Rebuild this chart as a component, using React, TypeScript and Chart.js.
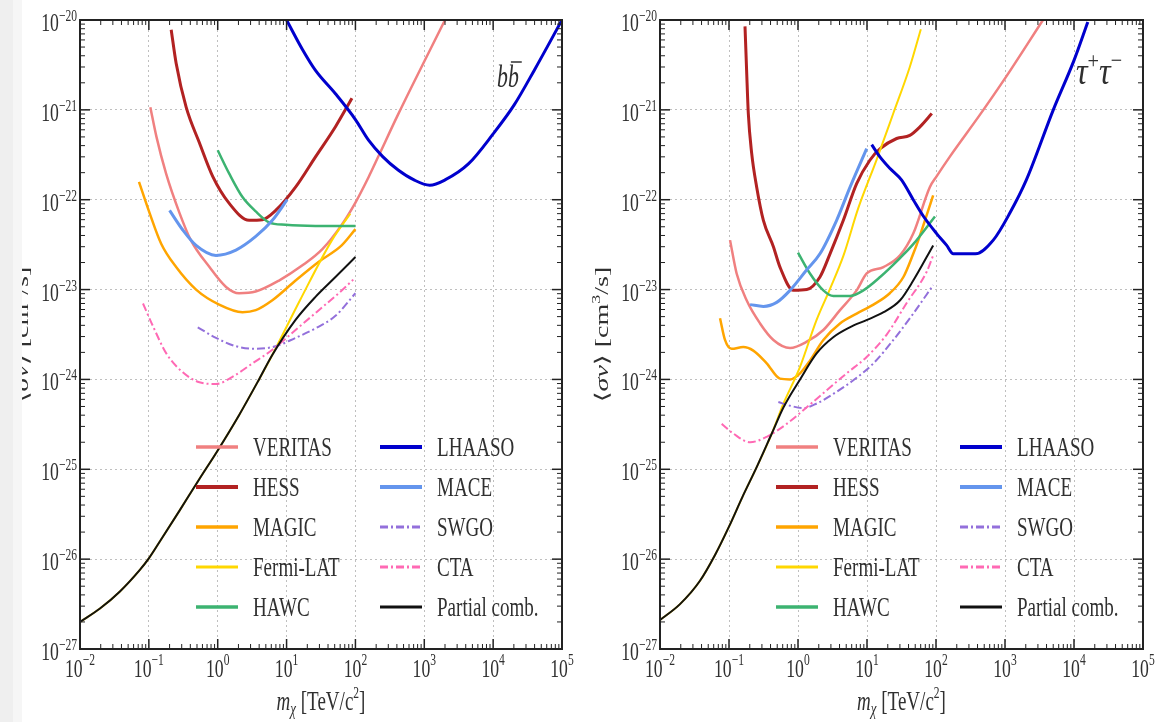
import React, { useEffect, useRef } from 'react';
import { Chart, registerables } from 'chart.js';

Chart.register(...registerables);

type Pt = [number, number];

// ---------- b b-bar channel: [mass (TeV), <sigma v> (cm^3/s)] ----------
const bbVERITAS: Pt[] = [[0.105, 1.07e-21], [0.129, 5.0e-22], [0.178, 1.95e-22], [0.279, 7.1e-23], [0.407, 3.55e-23], [0.759, 1.78e-23], [1.32, 1.07e-23], [2.04, 9.1e-24], [3.55, 9.5e-24], [7.76, 1.26e-23], [17.0, 1.86e-23], [33.1, 2.82e-23], [63.1, 5.25e-23], [100, 9.3e-23], [155, 1.78e-22], [214, 3.0e-22], [417, 8.9e-22], [2000, 1.0e-20]];
const bbHESS: Pt[] = [[0.211, 7.8e-21], [0.249, 3.3e-21], [0.348, 1.07e-21], [0.542, 4.3e-22], [0.845, 1.82e-22], [1.47, 9.1e-23], [2.86, 5.9e-23], [4.46, 6.0e-23], [6.95, 7.6e-23], [13.5, 1.38e-22], [26.3, 3.0e-22], [51.3, 6.5e-22], [89, 1.35e-21]];
const bbMAGIC: Pt[] = [[0.0719, 1.58e-22], [0.1026, 7.1e-23], [0.151, 3.24e-23], [0.249, 1.78e-23], [0.485, 1.0e-23], [1.05, 6.8e-24], [2.29, 5.6e-24], [3.57, 5.9e-24], [6.22, 7.6e-24], [13.5, 1.26e-23], [29.4, 2.04e-23], [63.1, 3.1e-23], [100, 4.7e-23]];
const bbFermi: Pt[] = [[0.01, 2.0e-27], [0.0195, 2.82e-27], [0.038, 4.37e-27], [0.074, 7.6e-27], [0.1, 1.02e-26], [0.145, 1.58e-26], [0.279, 3.47e-26], [0.542, 7.8e-26], [1.0, 1.62e-25], [2.04, 4.0e-25], [3.98, 1.0e-24], [6.17, 1.86e-24], [15.8, 7.7e-24], [45.7, 3.55e-23], [84.3, 7.0e-23]];
const bbHAWC: Pt[] = [[1.0, 3.55e-22], [1.47, 1.95e-22], [2.29, 1.07e-22], [3.57, 7.4e-23], [5.57, 5.6e-23], [9.68, 5.25e-23], [26.3, 5.1e-23], [100, 5.1e-23]];
const bbLHAASO: Pt[] = [[10, 1.0e-20], [17.0, 4.7e-21], [26.3, 2.75e-21], [51.3, 1.51e-21], [100, 7.8e-22], [155, 4.6e-22], [251, 3.0e-22], [417, 2.14e-22], [708, 1.66e-22], [1200, 1.45e-22], [2000, 1.66e-22], [4370, 2.5e-22], [1.0e4, 5.4e-22], [2.0e4, 1.12e-21], [4.0e4, 2.8e-21], [1.0e5, 1.0e-20]];
const bbMACE: Pt[] = [[0.2, 7.6e-23], [0.311, 4.6e-23], [0.485, 3.1e-23], [0.944, 2.4e-23], [1.84, 2.75e-23], [3.57, 3.9e-23], [6.22, 5.9e-23], [10.2, 1.0e-22]];
const bbSWGO: Pt[] = [[0.513, 3.8e-24], [0.944, 2.9e-24], [1.84, 2.34e-24], [3.57, 2.19e-24], [6.95, 2.34e-24], [13.5, 2.9e-24], [26.3, 3.7e-24], [51.3, 5.1e-24], [100, 9.1e-24]];
const bbCTA: Pt[] = [[0.0822, 7.0e-24], [0.115, 3.9e-24], [0.179, 1.95e-24], [0.311, 1.2e-24], [0.542, 9.3e-25], [0.944, 8.9e-25], [1.64, 1.07e-24], [3.2, 1.51e-24], [6.22, 2.14e-24], [13.5, 3.55e-24], [29.4, 5.9e-24], [57.1, 9.1e-24], [93, 1.29e-23]];
const bbComb: Pt[] = [[0.01, 2.0e-27], [0.0195, 2.82e-27], [0.038, 4.37e-27], [0.074, 7.6e-27], [0.1, 1.02e-26], [0.145, 1.58e-26], [0.279, 3.47e-26], [0.542, 7.8e-26], [1.0, 1.62e-25], [2.04, 4.0e-25], [3.98, 1.0e-24], [6.17, 1.86e-24], [13.5, 4.6e-24], [26.3, 8.3e-24], [51.3, 1.38e-23], [100, 2.3e-23]];

// ---------- tau+ tau- channel ----------
const ttVERITAS: Pt[] = [[0.1035, 3.55e-23], [0.129, 1.51e-23], [0.18, 7.6e-24], [0.282, 4.2e-24], [0.44, 2.75e-24], [0.766, 2.24e-24], [1.34, 2.63e-24], [2.33, 3.55e-24], [4.06, 5.9e-24], [7.08, 9.8e-24], [9.9, 1.51e-23], [17.3, 1.78e-23], [30.1, 2.4e-23], [46.8, 4.2e-23], [81.3, 1.38e-22], [102, 1.82e-22], [158, 3.0e-22], [437, 8.9e-22], [1000, 2.24e-21], [3550, 1.0e-20]];
const ttHESS: Pt[] = [[0.1706, 8.5e-21], [0.18, 2.75e-21], [0.1905, 9.1e-22], [0.213, 3.3e-22], [0.252, 1.38e-22], [0.315, 5.9e-23], [0.44, 3.0e-23], [0.548, 1.78e-23], [0.857, 9.8e-24], [1.34, 1.0e-23], [2.08, 1.38e-23], [2.91, 2.5e-23], [4.54, 5.9e-23], [7.08, 1.51e-22], [11.0, 2.75e-22], [15.5, 3.7e-22], [26.9, 4.8e-22], [41.7, 5.2e-22], [58.9, 6.5e-22], [87, 9.1e-22]];
const ttMAGIC: Pt[] = [[0.0741, 4.8e-24], [0.0875, 2.75e-24], [0.109, 2.19e-24], [0.161, 2.29e-24], [0.225, 2.09e-24], [0.352, 1.51e-24], [0.548, 1.02e-24], [0.766, 1.0e-24], [1.07, 1.17e-24], [1.49, 1.62e-24], [2.33, 2.75e-24], [4.06, 4.2e-24], [7.08, 5.4e-24], [12.4, 6.8e-24], [21.4, 9.1e-24], [33.7, 1.38e-23], [46.8, 2.5e-23], [55.5, 3.55e-23], [91, 1.12e-22]];
const ttFermi: Pt[] = [[0.01, 2.1e-27], [0.0195, 3.16e-27], [0.038, 5.75e-27], [0.063, 1.12e-26], [0.1, 2.3e-26], [0.158, 5.0e-26], [0.251, 1.05e-25], [0.417, 2.5e-25], [0.617, 5.4e-25], [1.07, 1.38e-24], [1.86, 4.6e-24], [2.88, 1.0e-23], [4.57, 2.4e-23], [7.41, 7.9e-23], [13.8, 2.8e-22], [24.0, 9.1e-22], [41.7, 3.0e-21], [60.3, 7.9e-21]];
const ttHAWC: Pt[] = [[1.0, 2.57e-23], [1.49, 1.51e-23], [2.33, 9.8e-24], [3.25, 8.5e-24], [5.68, 8.5e-24], [8.85, 9.8e-24], [15.5, 1.38e-23], [30.1, 2.24e-23], [46.8, 3.2e-23], [96.6, 6.5e-23]];
const ttLHAASO: Pt[] = [[11.7, 4.1e-22], [15.4, 3.0e-22], [21.4, 2.24e-22], [31.6, 1.66e-22], [46.8, 1.0e-22], [66.1, 6.5e-23], [102, 4.2e-23], [143, 3.1e-23], [178, 2.5e-23], [372, 2.5e-23], [676, 3.55e-23], [1175, 7.1e-23], [2040, 1.66e-22], [5010, 1.0e-21], [1.0e4, 3.55e-21], [15850, 9.5e-21]];
const ttMACE: Pt[] = [[0.202, 6.8e-24], [0.315, 6.5e-24], [0.491, 7.2e-24], [0.766, 9.8e-24], [1.34, 1.66e-23], [2.08, 2.5e-23], [3.63, 5.9e-23], [5.68, 1.38e-22], [9.89, 3.7e-22]];
const ttSWGO: Pt[] = [[0.519, 5.6e-25], [0.766, 5.1e-25], [1.19, 4.8e-25], [1.87, 5.4e-25], [3.25, 6.9e-25], [6.34, 9.8e-25], [12.4, 1.51e-24], [24.1, 2.75e-24], [46.8, 5.4e-24], [91, 1.12e-23]];
const ttCTA: Pt[] = [[0.0783, 3.2e-25], [0.1156, 2.5e-25], [0.202, 2.0e-25], [0.352, 2.3e-25], [0.685, 3.2e-25], [1.34, 4.9e-25], [2.61, 7.6e-25], [5.08, 1.17e-24], [9.89, 1.78e-24], [19.3, 3.16e-24], [37.6, 7.1e-24], [73.3, 1.58e-23], [91, 2.4e-23]];
const ttComb: Pt[] = [[0.01, 2.1e-27], [0.0195, 3.16e-27], [0.038, 5.75e-27], [0.063, 1.12e-26], [0.1, 2.3e-26], [0.158, 5.0e-26], [0.251, 1.05e-25], [0.417, 2.5e-25], [0.617, 4.9e-25], [1.07, 1.0e-24], [1.86, 1.95e-24], [3.24, 2.95e-24], [5.62, 3.8e-24], [10, 4.6e-24], [17.4, 5.6e-24], [30.2, 7.6e-24], [46.8, 1.26e-23], [91, 3.1e-23]];

const seriesNames = ['VERITAS', 'HESS', 'MAGIC', 'Fermi-LAT', 'HAWC', 'LHAASO', 'MACE', 'SWGO', 'CTA', 'Partial comb.'];
const bbSeries = [bbVERITAS, bbHESS, bbMAGIC, bbFermi, bbHAWC, bbLHAASO, bbMACE, bbSWGO, bbCTA, bbComb];
const ttSeries = [ttVERITAS, ttHESS, ttMAGIC, ttFermi, ttHAWC, ttLHAASO, ttMACE, ttSWGO, ttCTA, ttComb];

const xTickExps = [-2, -1, 0, 1, 2, 3, 4, 5];
const yTickExps = [-27, -26, -25, -24, -23, -22, -21, -20];

// ---------- styles ----------
const STYLES = [
  { color: '#f08080', width: 2.5, dash: [] as number[] },
  { color: '#b22222', width: 3, dash: [] as number[] },
  { color: '#ffa500', width: 2.5, dash: [] as number[] },
  { color: '#ffd700', width: 2, dash: [] as number[] },
  { color: '#3cb371', width: 2.5, dash: [] as number[] },
  { color: '#0000cd', width: 3, dash: [] as number[] },
  { color: '#6495ed', width: 3, dash: [] as number[] },
  { color: '#9370db', width: 2, dash: [8, 3, 2, 3] },
  { color: '#ff69b4', width: 2, dash: [8, 3, 2, 3] },
  { color: '#111111', width: 2, dash: [] as number[] },
];

const SX = 0.68;
const TXT = '#303030';
const FAMILY = '"Liberation Serif", "DejaVu Serif", serif';

type Run = { s: string; size: number; italic?: boolean; dy?: number };

function fontOf(r: Run) {
  return `${r.italic ? 'italic ' : ''}${r.size}px ${FAMILY}`;
}

function runsWidth(ctx: CanvasRenderingContext2D, runs: Run[], sx: number) {
  let w = 0;
  for (const r of runs) {
    ctx.font = fontOf(r);
    w += ctx.measureText(r.s).width * sx;
  }
  return w;
}

function drawRuns(ctx: CanvasRenderingContext2D, runs: Run[], x: number, y: number, align: 'left' | 'right' | 'center', sx = SX) {
  const total = runsWidth(ctx, runs, sx);
  let cx = align === 'left' ? x : align === 'right' ? x - total : x - total / 2;
  ctx.textAlign = 'left';
  ctx.textBaseline = 'alphabetic';
  for (const r of runs) {
    ctx.font = fontOf(r);
    const w = ctx.measureText(r.s).width * sx;
    ctx.save();
    ctx.translate(cx, y + (r.dy || 0));
    ctx.scale(sx, 1);
    ctx.fillText(r.s, 0, 0);
    ctx.restore();
    cx += w;
  }
  return total;
}

function expStr(e: number) {
  return e < 0 ? '\u2212' + Math.abs(e) : String(e);
}

function makeOverlay(panel: 'bb' | 'tt') {
  return {
    id: 'overlay-' + panel,
    afterDraw(chart: any) {
      const ctx: CanvasRenderingContext2D = chart.ctx;
      const a = chart.chartArea;
      const xs = chart.scales.x;
      const ys = chart.scales.y;
      ctx.save();
      ctx.setLineDash([]);
      ctx.strokeStyle = '#222';

      const seg = (x1: number, y1: number, x2: number, y2: number, w: number) => {
        ctx.lineWidth = w;
        ctx.beginPath();
        ctx.moveTo(x1, y1);
        ctx.lineTo(x2, y2);
        ctx.stroke();
      };

      // x ticks (bottom + top, inward)
      xTickExps.forEach((e, idx) => {
        const px = xs.getPixelForValue(Math.pow(10, e));
        seg(px, a.bottom, px, a.bottom - 10, 1.5);
        seg(px, a.top, px, a.top + 10, 1.5);
        if (idx < xTickExps.length - 1) {
          for (let k = 2; k <= 9; k++) {
            const mx = xs.getPixelForValue(k * Math.pow(10, e));
            seg(mx, a.bottom, mx, a.bottom - 5, 1);
            seg(mx, a.top, mx, a.top + 5, 1);
          }
        }
      });
      // y ticks (left + right, inward)
      yTickExps.forEach((e, idx) => {
        const py = ys.getPixelForValue(Math.pow(10, e));
        seg(a.left, py, a.left + 10, py, 1.5);
        seg(a.right, py, a.right - 10, py, 1.5);
        if (idx < yTickExps.length - 1) {
          for (let k = 2; k <= 9; k++) {
            const my = ys.getPixelForValue(k * Math.pow(10, e));
            seg(a.left, my, a.left + 5, my, 1);
            seg(a.right, my, a.right - 5, my, 1);
          }
        }
      });

      // frame
      ctx.lineWidth = 2;
      ctx.strokeRect(a.left, a.top, a.right - a.left, a.bottom - a.top);

      ctx.fillStyle = TXT;
      // tick labels
      xTickExps.forEach((e) => {
        const px = xs.getPixelForValue(Math.pow(10, e));
        drawRuns(ctx, [{ s: '10', size: 26 }, { s: expStr(e), size: 17, dy: -12 }], px, a.bottom + 28, 'center');
      });
      yTickExps.forEach((e) => {
        const py = ys.getPixelForValue(Math.pow(10, e));
        drawRuns(ctx, [{ s: '10', size: 26 }, { s: expStr(e), size: 17, dy: -10 }], a.left - 3, py + 11, 'right');
      });

      // x title
      drawRuns(
        ctx,
        [
          { s: 'm', size: 28, italic: true },
          { s: '\u03c7', size: 19, italic: true, dy: 5 },
          { s: ' [TeV/c', size: 28 },
          { s: '2', size: 17, dy: -12 },
          { s: ']', size: 28 },
        ],
        (a.left + a.right) / 2,
        a.bottom + 61,
        'center'
      );

      // y title (rotated)
      ctx.save();
      ctx.translate(22, (a.top + a.bottom) / 2);
      ctx.rotate(-Math.PI / 2);
      ctx.scale(1, SX);
      drawRuns(
        ctx,
        [
          { s: '\u27e8', size: 28 },
          { s: '\u03c3v', size: 28, italic: true },
          { s: '\u27e9 [cm', size: 28 },
          { s: '3', size: 18, dy: -12 },
          { s: '/s]', size: 28 },
        ],
        0,
        9,
        'center',
        1
      );
      ctx.restore();

      // channel annotation
      if (panel === 'bb') {
        const x0 = a.right - 65;
        const base = a.top + 67;
        drawRuns(ctx, [{ s: 'bb', size: 32, italic: true }], x0, base, 'left');
        ctx.font = fontOf({ s: 'b', size: 32, italic: true });
        const wb = ctx.measureText('b').width * SX;
        ctx.strokeStyle = TXT;
        seg(x0 + wb + 3, base - 25, x0 + 2 * wb + 3, base - 25, 1.5);
      } else {
        drawRuns(
          ctx,
          [
            { s: '\u03c4', size: 38, italic: true },
            { s: '+', size: 24, dy: -16 },
            { s: '\u03c4', size: 38, italic: true },
            { s: '\u2212', size: 24, dy: -16 },
          ],
          a.right - 67,
          a.top + 64,
          'left',
          0.85
        );
      }

      // legend (two columns, no frame)
      chart.data.datasets.forEach((ds: any, i: number) => {
        const col = Math.floor(i / 5);
        const row = i % 5;
        const lx = a.left + (col ? 300 : 116);
        const ly = a.top + 427 + row * 40;
        ctx.save();
        ctx.strokeStyle = ds.borderColor;
        ctx.lineWidth = ds.borderWidth + 1;
        ctx.setLineDash(ds.borderDash || []);
        ctx.beginPath();
        ctx.moveTo(lx, ly);
        ctx.lineTo(lx + 42, ly);
        ctx.stroke();
        ctx.restore();
        ctx.fillStyle = TXT;
        drawRuns(ctx, [{ s: ds.label, size: 28 }], lx + 57, ly + 9, 'left');
      });

      ctx.restore();
    },
  };
}

function isDecade(v: number) {
  if (!v || v <= 0) return false;
  const l = Math.log10(v);
  return Math.abs(l - Math.round(l)) < 1e-6;
}

function makeConfig(series: Pt[][], panel: 'bb' | 'tt', padRight: number): any {
  const gridColor = (c: any) => (c.tick && isDecade(c.tick.value) ? 'rgba(0,0,0,0.25)' : 'rgba(0,0,0,0)');
  return {
    type: 'line',
    data: {
      datasets: series.map((pts, i) => ({
        label: seriesNames[i],
        data: pts.map(([x, y]) => ({ x, y })),
        borderColor: STYLES[i].color,
        borderWidth: STYLES[i].width,
        borderDash: STYLES[i].dash,
        pointRadius: 0,
        pointHoverRadius: 0,
        fill: false,
        cubicInterpolationMode: 'monotone',
        order: -i,
      })),
    },
    options: {
      responsive: false,
      maintainAspectRatio: false,
      animation: false,
      events: [],
      layout: { padding: { left: 80, right: padRight, top: 20, bottom: 73 } },
      plugins: { legend: { display: false }, tooltip: { enabled: false } },
      scales: {
        x: {
          type: 'logarithmic',
          min: 1e-2,
          max: 1e5,
          ticks: { display: false },
          grid: { drawTicks: false, color: gridColor, lineWidth: 1 },
          border: { display: false, dash: [2, 3] },
          afterFit: (s: any) => {
            s.height = 0;
          },
        },
        y: {
          type: 'logarithmic',
          min: 1e-27,
          max: 1e-20,
          ticks: { display: false },
          grid: { drawTicks: false, color: gridColor, lineWidth: 1 },
          border: { display: false, dash: [2, 3] },
          afterFit: (s: any) => {
            s.width = 0;
          },
        },
      },
    },
    plugins: [makeOverlay(panel)],
  };
}

export default function App() {
  const leftRef = useRef<HTMLCanvasElement>(null);
  const rightRef = useRef<HTMLCanvasElement>(null);

  useEffect(() => {
    document.body.style.margin = '0';
    const c1 = new Chart(leftRef.current as HTMLCanvasElement, makeConfig(bbSeries, 'bb', 18));
    const c2 = new Chart(rightRef.current as HTMLCanvasElement, makeConfig(ttSeries, 'tt', 20));
    return () => {
      c1.destroy();
      c2.destroy();
    };
  }, []);

  return (
    <div style={{ position: 'fixed', left: 0, top: 0, width: 1163, height: 722, background: '#ffffff', overflow: 'hidden' }}>
      <canvas ref={leftRef} width={580} height={722} style={{ position: 'absolute', left: 0, top: 0, width: 580, height: 722 }} />
      <canvas ref={rightRef} width={583} height={722} style={{ position: 'absolute', left: 580, top: 0, width: 583, height: 722 }} />
      <div style={{ position: 'absolute', left: 0, top: 0, width: 13, height: 722, background: '#efefef' }} />
      <div style={{ position: 'absolute', left: 13, top: 0, width: 9, height: 722, background: '#f6f6f6' }} />
    </div>
  );
}
